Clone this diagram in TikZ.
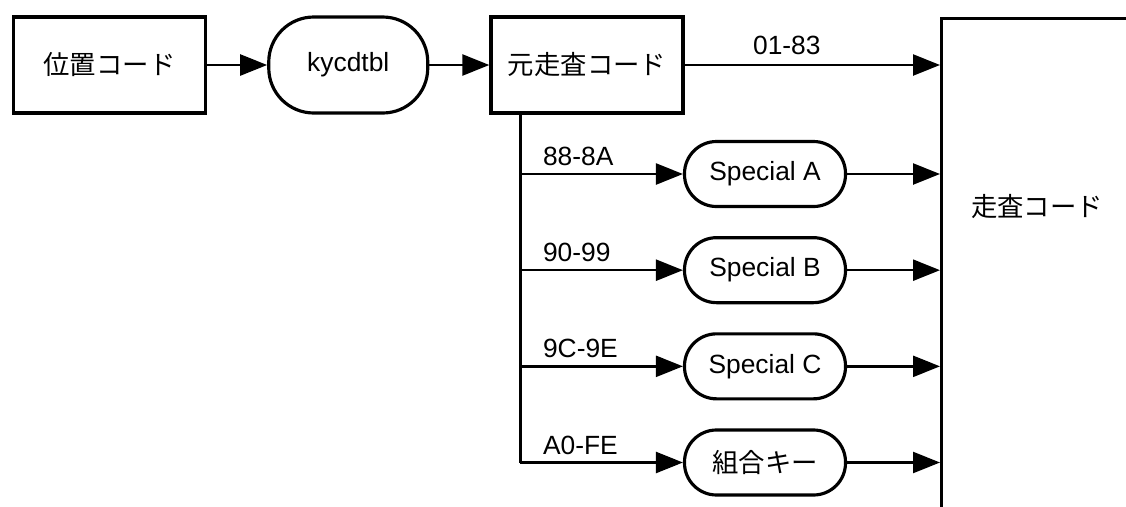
\documentclass[tikz,border=0pt]{standalone}
\usepackage{fontspec}
\setmainfont{Liberation Sans}
\newfontfamily\jpfont{Noto Sans CJK JP}
\usepackage{tikz}
\usetikzlibrary{arrows.meta,positioning,calc}
\tikzset{
  codebox/.style={rectangle,draw=black,line width=1.9pt,fill=white,align=center,
    font=\fontsize{15}{18}\selectfont,minimum width=3.84cm,minimum height=1.92cm,inner sep=2pt},
  procbox/.style={rectangle,rounded corners=0.9cm,draw=black,line width=1.8pt,fill=white,align=center,
    font=\fontsize{15}{18}\selectfont,minimum width=3.18cm,minimum height=1.92cm,inner sep=2pt},
  specbox/.style={rectangle,rounded corners=0.64cm,draw=black,line width=1.8pt,fill=white,align=center,
    font=\fontsize{15}{18}\selectfont,minimum width=3.22cm,minimum height=1.3cm,inner sep=2pt},
  flowarr/.style={-{Triangle[length=0.54cm,width=0.42cm]},line width=1.4pt,color=black},
  flowline/.style={line width=1.4pt,color=black},
  rangelabel/.style={font=\fontsize{15}{18}\selectfont,inner sep=2pt},
}
\begin{document}
\begin{tikzpicture}[node distance=1.2cm and 1.2cm]
  \useasboundingbox (0,0) rectangle (22.52,-10.12);
  \clip (0,0) rectangle (22.52,-10.12);

  \node[codebox] (pos) at (2.19,-1.30) {\jpfont 位置コード};
  \node[procbox, right=of pos] (kyc) {kycdtbl};
  \node[codebox, right=of kyc] (orig) {\jpfont 元走査コード};

  % scan code block, runs off the page
  \node[codebox, anchor=north west, minimum width=5cm, minimum height=12cm] (scan) at (18.8,-0.33) {};
  \node[rangelabel] (scanlbl) at (20.74,-4.12) {\jpfont 走査コード};

  \node[specbox] (spa) at (15.30,-3.48) {Special A};
  \node[specbox, below=0.56cm of spa] (spb) {Special B};
  \node[specbox, below=0.56cm of spb] (spc) {Special C};
  \node[specbox, below=0.56cm of spc] (kumi) {\jpfont 組合キー};

  \coordinate (trunk) at ($(orig.south west)+(0.62,0)$);
  \coordinate (brA) at (trunk |- spa);
  \coordinate (brB) at (trunk |- spb);
  \coordinate (brC) at (trunk |- spc);
  \coordinate (brD) at (trunk |- kumi);

  \draw[flowarr] (pos) -- (kyc);
  \draw[flowarr] (kyc) -- (orig);
  \draw[flowarr] (orig) -- (orig -| scan.west)
    node[rangelabel, pos=0.4, above, yshift=0.12cm] {01-83};

  \draw[flowline] (trunk) -- (brD);
  \draw[flowarr] (brA) -- (spa) node[rangelabel, at start, anchor=south west, xshift=0.36cm, yshift=0.07cm] {88-8A};
  \draw[flowarr] (brB) -- (spb) node[rangelabel, at start, anchor=south west, xshift=0.36cm, yshift=0.07cm] {90-99};
  \draw[flowarr] (brC) -- (spc) node[rangelabel, at start, anchor=south west, xshift=0.36cm, yshift=0.07cm] {9C-9E};
  \draw[flowarr] (brD) -- (kumi) node[rangelabel, at start, anchor=south west, xshift=0.36cm, yshift=0.07cm] {A0-FE};

  \draw[flowarr] (spa) -- (spa -| scan.west);
  \draw[flowarr] (spb) -- (spb -| scan.west);
  \draw[flowarr] (spc) -- (spc -| scan.west);
  \draw[flowarr] (kumi) -- (kumi -| scan.west);
\end{tikzpicture}
\end{document}
